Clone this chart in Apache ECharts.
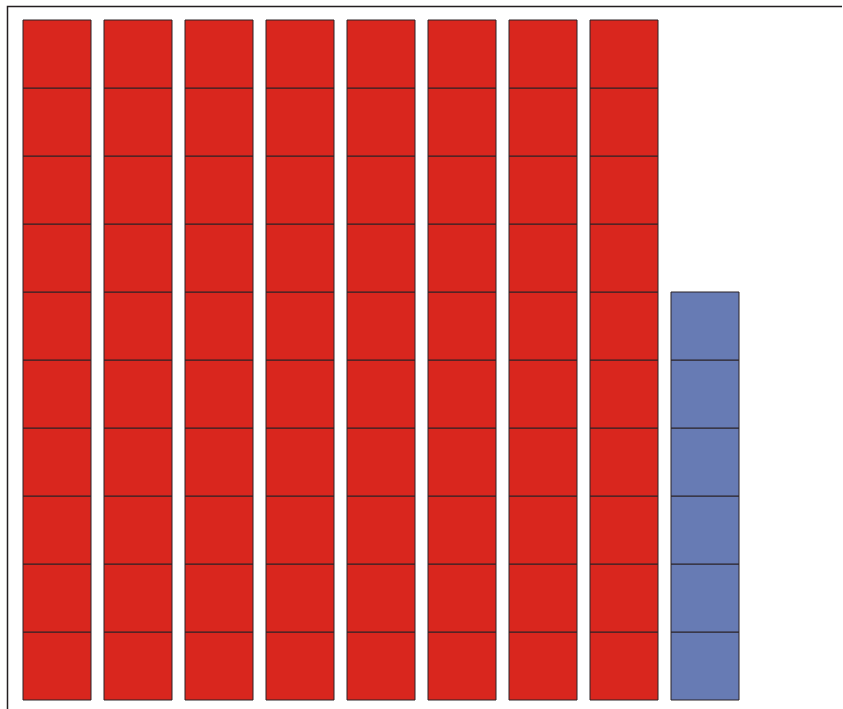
<!DOCTYPE html>
<html>
<head>
<meta charset="utf-8">
<script src="https://cdn.jsdelivr.net/npm/echarts@6/dist/echarts.min.js"></script>
<style>html,body{margin:0;padding:0;background:#fff}#c{width:843px;height:709px}</style>
</head>
<body>
<div id="c"></div>
<script>
// Data
var categories = ['1', '2', '3', '4', '5', '6', '7', '8', '9'];
var counts = [10, 10, 10, 10, 10, 10, 10, 10, 6];
var groups = ['A', 'A', 'A', 'A', 'A', 'A', 'A', 'A', 'B'];
var groupColors = { A: '#d9261e', B: '#677bb4' };

var cells = [];
counts.forEach(function (n, ci) {
  for (var r = 0; r < n; r++) cells.push([ci, r, groups[ci]]);
});

var chart = echarts.init(document.getElementById('c'), null, { renderer: 'canvas' });
chart.setOption({
  animation: false,
  grid: { left: 16.5, right: 97.5, top: 20, bottom: 9 },
  xAxis: {
    type: 'category', data: categories, boundaryGap: true,
    axisLine: { show: false }, axisTick: { show: false }, axisLabel: { show: false }, splitLine: { show: false }
  },
  yAxis: {
    type: 'value', min: 0, max: 10,
    axisLine: { show: false }, axisTick: { show: false }, axisLabel: { show: false }, splitLine: { show: false }
  },
  graphic: [{
    type: 'polyline',
    shape: { points: [[7.5, 709], [7.5, 6.5], [842, 6.5]] },
    style: { stroke: '#231f20', lineWidth: 1.5, fill: null },
    silent: true
  }],
  series: [{
    type: 'custom',
    data: cells,
    encode: { x: 0, y: 1 },
    renderItem: function (params, api) {
      var ci = api.value(0), r = api.value(1);
      var top = api.coord([ci, r + 1]);
      var bot = api.coord([ci, r]);
      var w = 68;
      var g = groups[ci];
      return {
        type: 'rect',
        shape: { x: top[0] - w / 2, y: top[1], width: w, height: bot[1] - top[1] },
        style: { fill: groupColors[g], stroke: '#2a2226', lineWidth: 1 }
      };
    }
  }]
});
</script>
</body>
</html>
